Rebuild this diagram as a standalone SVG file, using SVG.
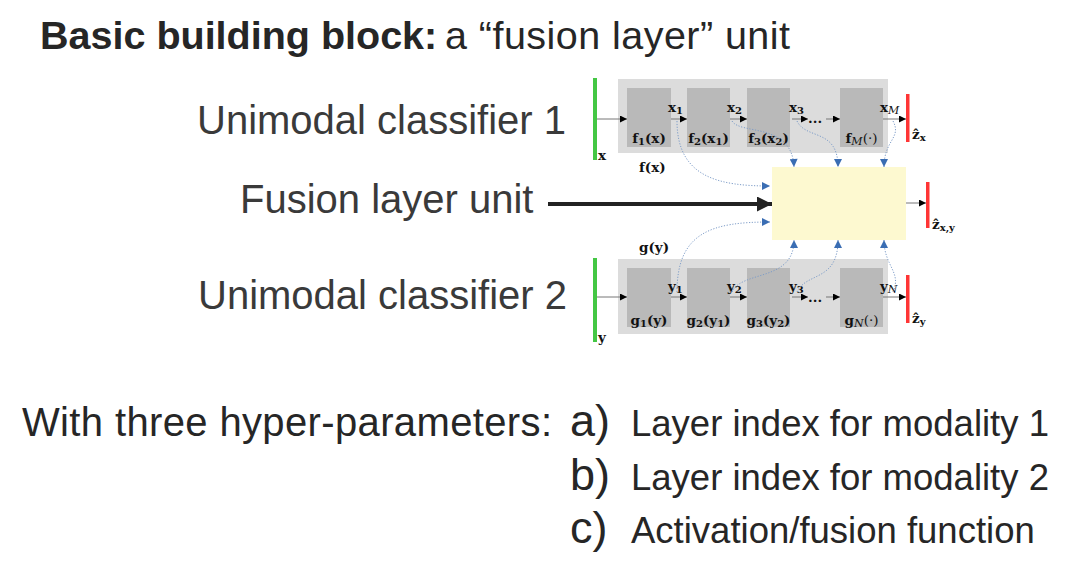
<svg xmlns="http://www.w3.org/2000/svg" width="1088" height="561" viewBox="0 0 1088 561">
<style>
.big{font-family:"Liberation Sans",Arial,sans-serif;font-size:40px;fill:#3a3a3a}
.title{font-family:"Liberation Sans",Arial,sans-serif;font-size:39.5px;fill:#262626}
.item{font-family:"Liberation Sans",Arial,sans-serif;font-size:36.5px;fill:#262626}
.letter{font-family:"Liberation Sans",Arial,sans-serif;font-size:45px;fill:#262626}
.m{font-family:"DejaVu Serif","Liberation Serif",serif;font-weight:bold;font-size:13.5px;fill:#111}
.s{font-size:10px}
.it{font-style:italic;font-weight:normal;font-size:11px}
.outer{fill:#dcdcdc}
.blk{fill:#b9b9b9}
.green{fill:#44c744}
.red{fill:#ff3535}
.dot{fill:none;stroke:#7d9cc8;stroke-width:1;stroke-dasharray:1.2 1.6}
.sm{stroke:#777;stroke-width:1}
</style>
<defs>
<marker id="ah" viewBox="0 0 10 10" refX="10" refY="5" markerWidth="10" markerHeight="7" markerUnits="userSpaceOnUse" orient="auto"><path d="M0,0 L10,5 L0,10 Z" fill="#000"/></marker>
<marker id="bh" viewBox="0 0 10 10" refX="10" refY="5" markerWidth="10" markerHeight="8" markerUnits="userSpaceOnUse" orient="auto"><path d="M0,0 L10,5 L0,10 Z" fill="#3a6db3"/></marker>
<marker id="kh" viewBox="0 0 10 10" refX="10" refY="5" markerWidth="20" markerHeight="15" markerUnits="userSpaceOnUse" orient="auto"><path d="M0,0 L10,5 L0,10 Z" fill="#222"/></marker>
</defs>
<rect width="1088" height="561" fill="#fff"/>

<g id="title">
<text class="title" x="40" y="49" font-weight="bold">Basic building block:</text>
<text class="title" x="445" y="49" textLength="345" lengthAdjust="spacing">a “fusion layer” unit</text>
</g>
<g id="label-uni1"><text class="big" x="197" y="134">Unimodal classifier 1</text></g>
<g id="label-fusion"><text class="big" x="240" y="213">Fusion layer unit</text></g>
<g id="label-uni2"><text class="big" x="198" y="309">Unimodal classifier 2</text></g>

<g id="classifier1">
<rect class="outer" x="618" y="79" width="270" height="74"/>
<rect class="blk" x="627" y="88" width="44" height="59"/>
<rect class="blk" x="687" y="88" width="43" height="59"/>
<rect class="blk" x="747" y="88" width="43" height="59"/>
<rect class="blk" x="840" y="88" width="43" height="59"/>
<rect class="green" x="593" y="78" width="4" height="82"/>
<rect class="red" x="906" y="94" width="3.5" height="48"/>
<text class="m" x="649" y="143" text-anchor="middle">f<tspan class="s" dy="2">1</tspan><tspan dy="-2">(x)</tspan></text>
<text class="m" x="708.5" y="143" text-anchor="middle">f<tspan class="s" dy="2">2</tspan><tspan dy="-2">(x</tspan><tspan class="s" dy="2">1</tspan><tspan dy="-2">)</tspan></text>
<text class="m" x="768.5" y="143" text-anchor="middle">f<tspan class="s" dy="2">3</tspan><tspan dy="-2">(x</tspan><tspan class="s" dy="2">2</tspan><tspan dy="-2">)</tspan></text>
<text class="m" x="861.5" y="143" text-anchor="middle">f<tspan class="it" dy="2">M</tspan><tspan dy="-2" font-weight="normal">(·)</tspan></text>
<text class="m" x="668" y="112">x<tspan class="s" dy="2">1</tspan></text>
<text class="m" x="727" y="112">x<tspan class="s" dy="2">2</tspan></text>
<text class="m" x="789" y="112">x<tspan class="s" dy="2">3</tspan></text>
<text class="m" x="880" y="112">x<tspan class="it" dy="2">M</tspan></text>
<text class="m" x="808" y="123">...</text>
<text class="m" x="598" y="160">x</text>
<text class="m" x="639" y="172">f(x)</text>
<text class="m" x="912" y="139">ẑ<tspan class="s" dy="2">x</tspan></text>
</g>

<g id="fusion-unit">
<rect x="772" y="167" width="134" height="73" fill="#fdf9d0"/>
<rect class="red" x="926" y="182" width="3.5" height="46"/>
<text class="m" x="932" y="229">ẑ<tspan class="s" dy="2">x,y</tspan></text>
</g>

<g id="classifier2">
<rect class="outer" x="618" y="259" width="270" height="75"/>
<rect class="blk" x="627" y="268" width="44" height="59"/>
<rect class="blk" x="687" y="268" width="43" height="59"/>
<rect class="blk" x="747" y="268" width="43" height="59"/>
<rect class="blk" x="840" y="268" width="43" height="59"/>
<rect class="green" x="593" y="258" width="4" height="84"/>
<rect class="red" x="906" y="275" width="3.5" height="48"/>
<text class="m" x="649" y="325" text-anchor="middle">g<tspan class="s" dy="2">1</tspan><tspan dy="-2">(y)</tspan></text>
<text class="m" x="708.5" y="325" text-anchor="middle">g<tspan class="s" dy="2">2</tspan><tspan dy="-2">(y</tspan><tspan class="s" dy="2">1</tspan><tspan dy="-2">)</tspan></text>
<text class="m" x="768.5" y="325" text-anchor="middle">g<tspan class="s" dy="2">3</tspan><tspan dy="-2">(y</tspan><tspan class="s" dy="2">2</tspan><tspan dy="-2">)</tspan></text>
<text class="m" x="861.5" y="325" text-anchor="middle">g<tspan class="it" dy="2">N</tspan><tspan dy="-2" font-weight="normal">(·)</tspan></text>
<text class="m" x="668" y="291">y<tspan class="s" dy="2">1</tspan></text>
<text class="m" x="727" y="291">y<tspan class="s" dy="2">2</tspan></text>
<text class="m" x="789" y="291">y<tspan class="s" dy="2">3</tspan></text>
<text class="m" x="880" y="291">y<tspan class="it" dy="2">N</tspan></text>
<text class="m" x="808" y="302">...</text>
<text class="m" x="598" y="342">y</text>
<text class="m" x="639" y="252">g(y)</text>
<text class="m" x="912" y="323">ẑ<tspan class="s" dy="2">y</tspan></text>
</g>

<g id="connectors">
<line class="sm" x1="597" y1="119" x2="627" y2="119" marker-end="url(#ah)"/>
<line class="sm" x1="671" y1="119" x2="687" y2="119" marker-end="url(#ah)"/>
<line class="sm" x1="730" y1="119" x2="747" y2="119" marker-end="url(#ah)"/>
<line class="sm" x1="792" y1="119" x2="808" y2="119" marker-end="url(#ah)"/>
<line class="sm" x1="826" y1="119" x2="840" y2="119" marker-end="url(#ah)"/>
<line class="sm" x1="883" y1="119" x2="906" y2="119" marker-end="url(#ah)"/>
<line class="sm" x1="597" y1="297" x2="627" y2="297" marker-end="url(#ah)"/>
<line class="sm" x1="671" y1="297" x2="687" y2="297" marker-end="url(#ah)"/>
<line class="sm" x1="730" y1="297" x2="747" y2="297" marker-end="url(#ah)"/>
<line class="sm" x1="792" y1="297" x2="808" y2="297" marker-end="url(#ah)"/>
<line class="sm" x1="826" y1="297" x2="840" y2="297" marker-end="url(#ah)"/>
<line class="sm" x1="883" y1="297" x2="906" y2="297" marker-end="url(#ah)"/>
<line class="sm" x1="906" y1="203" x2="926" y2="203" marker-end="url(#ah)"/>
<line x1="548" y1="204" x2="772" y2="204" stroke="#222" stroke-width="4" marker-end="url(#kh)"/>
<path class="dot" d="M677,121 C677,178 720,186 770,186" marker-end="url(#bh)"/>
<path class="dot" d="M732,121 C740,135 792,122 794,167" marker-end="url(#bh)"/>
<path class="dot" d="M797,121 C806,140 838,128 838,167" marker-end="url(#bh)"/>
<path class="dot" d="M893,121 C902,138 884,140 884,167" marker-end="url(#bh)"/>
<path class="dot" d="M677,292 C677,232 712,222 770,222" marker-end="url(#bh)"/>
<path class="dot" d="M732,292 C742,270 794,282 794,240" marker-end="url(#bh)"/>
<path class="dot" d="M797,292 C806,272 838,282 838,240" marker-end="url(#bh)"/>
<path class="dot" d="M893,292 C902,272 884,266 884,240" marker-end="url(#bh)"/>
</g>

<g id="hyperparameters">
<text class="big" x="22" y="436" style="fill:#262626" textLength="530" lengthAdjust="spacing">With three hyper-parameters:</text>
<text class="letter" x="570" y="436">a)</text>
<text class="letter" x="570" y="490">b)</text>
<text class="letter" x="570" y="543">c)</text>
<text class="item" x="631" y="436">Layer index for modality 1</text>
<text class="item" x="631" y="490">Layer index for modality 2</text>
<text class="item" x="631" y="543">Activation/fusion function</text>
</g>
</svg>
